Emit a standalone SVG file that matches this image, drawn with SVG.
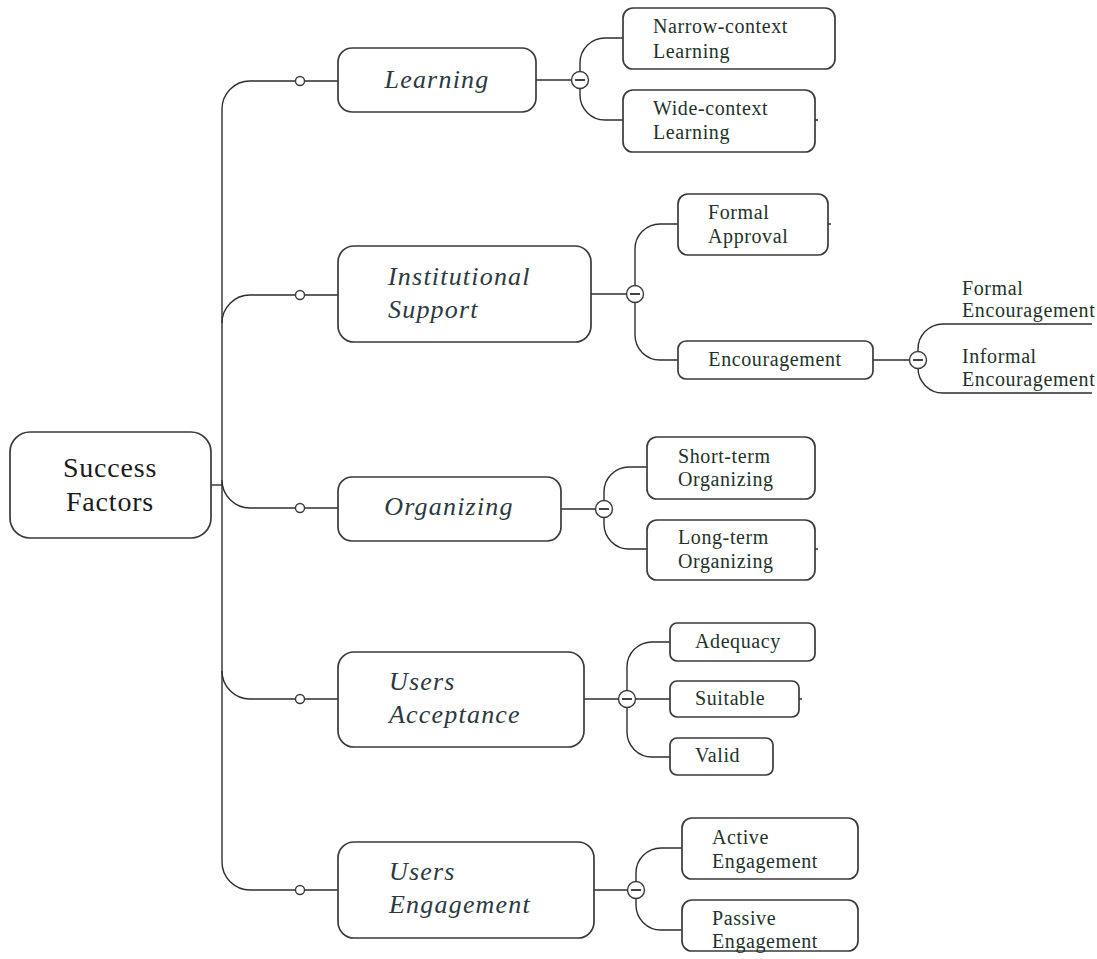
<svg xmlns="http://www.w3.org/2000/svg" width="1097" height="959" viewBox="0 0 1097 959">
  <style>
    .box { fill: #ffffff; stroke: #3a3a3a; stroke-width: 1.7; }
    .wire { fill: none; stroke: #2e2e2e; stroke-width: 1.4; }
    .knob { fill: #ffffff; stroke: #3a3a3a; stroke-width: 1.4; }
    text { font-family: 'Liberation Serif', 'Times New Roman', Times, serif; }
    .root { font-size: 28px; fill: #1a1a1a; letter-spacing: 0.8px; }
    .mid { font-style: italic; font-size: 26px; fill: #2b3942; letter-spacing: 1.2px; }
    .leaf { font-size: 20px; fill: #1d3329; letter-spacing: 0.6px; }
  </style>
  <defs>
    <!-- collapse toggle: circle with minus -->
    <g id="toggle">
      <circle cx="0" cy="0" r="8.5" class="knob"/>
      <line x1="-5" y1="0" x2="5" y2="0" stroke="#2e2e2e" stroke-width="1.8"/>
    </g>
    <circle id="dot" cx="0" cy="0" r="4.5" class="knob"/>
  </defs>

  <!-- connectors -->
  <g id="connectors">
    <!-- trunk from root -->
    <path class="wire" d="M211 485 H222"/>
    <path class="wire" d="M222 109 V862"/>
    <path class="wire" d="M222 109 A28 28 0 0 1 250 81 H338"/>
    <path class="wire" d="M222 323 A28 28 0 0 1 250 295 H338"/>
    <path class="wire" d="M222 480 A28 28 0 0 0 250 508 H338"/>
    <path class="wire" d="M222 671 A28 28 0 0 0 250 699 H338"/>
    <path class="wire" d="M222 862 A28 28 0 0 0 250 890 H338"/>
    <use href="#dot" x="300" y="81"/>
    <use href="#dot" x="300" y="295"/>
    <use href="#dot" x="300" y="508"/>
    <use href="#dot" x="300" y="699"/>
    <use href="#dot" x="300" y="890"/>

    <!-- Learning children -->
    <path class="wire" d="M536 80 H572"/>
    <path class="wire" d="M580 72 V63 A25 25 0 0 1 605 38 H623"/>
    <path class="wire" d="M580 88 V95 A25 25 0 0 0 605 120 H623"/>
    <use href="#toggle" x="580" y="80"/>

    <!-- Institutional Support children -->
    <path class="wire" d="M591 294 H627"/>
    <path class="wire" d="M635 286 V249 A25 25 0 0 1 660 224 H678"/>
    <path class="wire" d="M635 302 V335 A25 25 0 0 0 660 360 H678"/>
    <use href="#toggle" x="635" y="294"/>

    <!-- Encouragement children -->
    <path class="wire" d="M873 360 H910"/>
    <path class="wire" d="M918 352 V349 A25 25 0 0 1 943 324 H1092"/>
    <path class="wire" d="M918 368 A25 25 0 0 0 943 393 H1092"/>
    <use href="#toggle" x="918" y="360"/>

    <!-- Organizing children -->
    <path class="wire" d="M561 509 H596"/>
    <path class="wire" d="M604 501 V492 A25 25 0 0 1 629 467 H647"/>
    <path class="wire" d="M604 517 V524 A25 25 0 0 0 629 549 H647"/>
    <use href="#toggle" x="604" y="509"/>

    <!-- Users Acceptance children -->
    <path class="wire" d="M584 699 H619"/>
    <path class="wire" d="M627 691 V667 A25 25 0 0 1 652 642 H670"/>
    <path class="wire" d="M635 699 H670"/>
    <path class="wire" d="M627 707 V732 A25 25 0 0 0 652 757 H670"/>
    <use href="#toggle" x="627" y="699"/>

    <!-- Users Engagement children -->
    <path class="wire" d="M594 890 H628"/>
    <path class="wire" d="M636 882 V873 A25 25 0 0 1 661 848 H682"/>
    <path class="wire" d="M636 898 V905 A25 25 0 0 0 661 930 H682"/>
    <use href="#toggle" x="636" y="890"/>

    <!-- short stubs on right edges -->
    <path class="wire" d="M815 120 H818 M828 224 H831 M815 549 H818 M799 699 H802"/>
  </g>

  <!-- root -->
  <g id="node-success-factors">
    <rect class="box" x="10" y="432" width="201" height="106" rx="20"/>
    <text class="root" x="110" y="477" text-anchor="middle">Success</text>
    <text class="root" x="110" y="511" text-anchor="middle">Factors</text>
  </g>

  <!-- second level -->
  <g id="node-learning">
    <rect class="box" x="338" y="48" width="198" height="64" rx="14"/>
    <text class="mid" x="437" y="88" text-anchor="middle">Learning</text>
  </g>
  <g id="node-institutional-support">
    <rect class="box" x="338" y="246" width="253" height="96" rx="16"/>
    <text class="mid" x="388" y="285">Institutional</text>
    <text class="mid" x="388" y="318">Support</text>
  </g>
  <g id="node-organizing">
    <rect class="box" x="338" y="477" width="223" height="64" rx="14"/>
    <text class="mid" x="449" y="515" text-anchor="middle">Organizing</text>
  </g>
  <g id="node-users-acceptance">
    <rect class="box" x="338" y="652" width="246" height="95" rx="16"/>
    <text class="mid" x="389" y="690">Users</text>
    <text class="mid" x="389" y="723">Acceptance</text>
  </g>
  <g id="node-users-engagement">
    <rect class="box" x="338" y="842" width="256" height="96" rx="16"/>
    <text class="mid" x="389" y="880">Users</text>
    <text class="mid" x="389" y="913">Engagement</text>
  </g>

  <!-- leaves -->
  <g id="node-narrow-context">
    <rect class="box" x="623" y="8" width="212" height="61" rx="10"/>
    <text class="leaf" x="653" y="33">Narrow-context</text>
    <text class="leaf" x="653" y="58">Learning</text>
  </g>
  <g id="node-wide-context">
    <rect class="box" x="623" y="90" width="192" height="62" rx="10"/>
    <text class="leaf" x="653" y="115">Wide-context</text>
    <text class="leaf" x="653" y="139">Learning</text>
  </g>
  <g id="node-formal-approval">
    <rect class="box" x="678" y="194" width="150" height="61" rx="10"/>
    <text class="leaf" x="708" y="219">Formal</text>
    <text class="leaf" x="708" y="243">Approval</text>
  </g>
  <g id="node-encouragement">
    <rect class="box" x="678" y="341" width="195" height="38" rx="8"/>
    <text class="leaf" x="775" y="366" text-anchor="middle">Encouragement</text>
  </g>
  <g id="node-formal-encouragement">
    <text class="leaf" x="962" y="295">Formal</text>
    <text class="leaf" x="962" y="317">Encouragement</text>
  </g>
  <g id="node-informal-encouragement">
    <text class="leaf" x="962" y="363">Informal</text>
    <text class="leaf" x="962" y="386">Encouragement</text>
  </g>
  <g id="node-short-term">
    <rect class="box" x="647" y="437" width="168" height="62" rx="10"/>
    <text class="leaf" x="678" y="463">Short-term</text>
    <text class="leaf" x="678" y="486">Organizing</text>
  </g>
  <g id="node-long-term">
    <rect class="box" x="647" y="520" width="168" height="60" rx="10"/>
    <text class="leaf" x="678" y="544">Long-term</text>
    <text class="leaf" x="678" y="568">Organizing</text>
  </g>
  <g id="node-adequacy">
    <rect class="box" x="670" y="623" width="145" height="38" rx="7"/>
    <text class="leaf" x="695" y="648">Adequacy</text>
  </g>
  <g id="node-suitable">
    <rect class="box" x="670" y="681" width="129" height="36" rx="7"/>
    <text class="leaf" x="695" y="705">Suitable</text>
  </g>
  <g id="node-valid">
    <rect class="box" x="670" y="738" width="103" height="37" rx="7"/>
    <text class="leaf" x="695" y="762">Valid</text>
  </g>
  <g id="node-active-engagement">
    <rect class="box" x="682" y="818" width="176" height="61" rx="10"/>
    <text class="leaf" x="712" y="844">Active</text>
    <text class="leaf" x="712" y="868">Engagement</text>
  </g>
  <g id="node-passive-engagement">
    <rect class="box" x="682" y="900" width="176" height="51" rx="10"/>
    <text class="leaf" x="712" y="925">Passive</text>
    <text class="leaf" x="712" y="948">Engagement</text>
  </g>
</svg>
